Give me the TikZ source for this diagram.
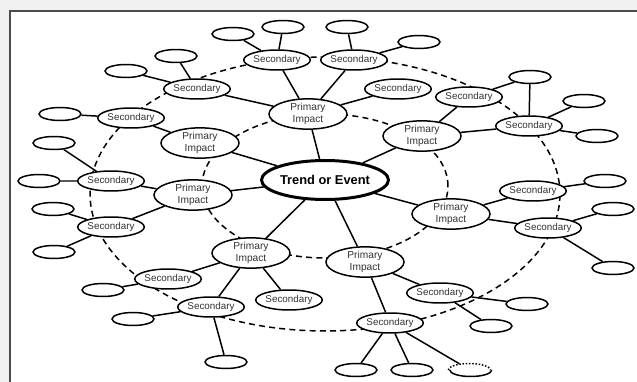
\documentclass[tikz,border=0pt]{standalone}
\usepackage{fontspec}
\setmainfont{Liberation Sans}
\usetikzlibrary{shapes.geometric}
\tikzset{
  garis/.style={line width=0.85pt},
  putus/.style={line width=0.85pt,dash pattern=on 3.4pt off 2.4pt},
  pusat/.style={ellipse,draw,fill=white,line width=1.7pt,minimum width=2.24cm,minimum height=0.78cm,inner sep=0pt,font=\fontsize{7.3}{8}\selectfont\bfseries},
  primer/.style={ellipse,draw,fill=white,line width=0.85pt,minimum width=1.56cm,minimum height=0.56cm,inner sep=0pt,align=center,text=black!80,font=\fontsize{5.8}{6.8}\selectfont},
  sekunder/.style={ellipse,draw,fill=white,line width=0.85pt,minimum width=1.14cm,minimum height=0.4cm,inner sep=0pt,text=black!80,font=\fontsize{5.6}{6.5}\selectfont},
  daun/.style={ellipse,draw,fill=white,line width=0.85pt,minimum width=0.84cm,minimum height=0.26cm,inner sep=0pt}
}

\begin{document}
\begin{tikzpicture}[x=0.02cm,y=-0.02cm]
\useasboundingbox (0,0) rectangle (637,382);

% bingkai
\fill[gray!12] (0,0) rectangle (637,10);
\fill[gray!12] (0,0) rectangle (9,382);
\draw[gray!60!black,line width=0.8pt] (637,11) -- (10,11) -- (10,382);

% elips putus-putus
\draw[putus] (325,194) ellipse [x radius=4.7cm,y radius=2.74cm];
\draw[putus] (325,186) ellipse [x radius=2.46cm,y radius=1.44cm];

% pusat dan dampak primer
\node[pusat] (t) at (325,180) {Trend or Event};
\node[primer] (p1) at (308,114) {Primary\\Impact};
\node[primer] (p2) at (200,143) {Primary\\Impact};
\node[primer] (p3) at (193,195) {Primary\\Impact};
\node[primer] (p4) at (251,253) {Primary\\Impact};
\node[primer] (p5) at (365,262) {Primary\\Impact};
\node[primer] (p6) at (451,214) {Primary\\Impact};
\node[primer] (p7) at (422,136) {Primary\\Impact};

% dampak sekunder
\node[sekunder] (s1) at (277,60) {Secondary};
\node[sekunder] (s2) at (354,60) {Secondary};
\node[sekunder] (s3) at (197,89) {Secondary};
\node[sekunder] (s4) at (131,118) {Secondary};
\node[sekunder] (s5) at (111,181) {Secondary};
\node[sekunder] (s6) at (111,227) {Secondary};
\node[sekunder] (s7) at (168,279) {Secondary};
\node[sekunder] (s8) at (211,307) {Secondary};
\node[sekunder] (s9) at (289,300) {Secondary};
\node[sekunder] (s10) at (390,323) {Secondary};
\node[sekunder] (s11) at (440,293) {Secondary};
\node[sekunder] (s12) at (548,228) {Secondary};
\node[sekunder] (s13) at (533,191) {Secondary};
\node[sekunder] (s14) at (529,126) {Secondary};
\node[sekunder] (s15) at (469,97) {Secondary};
\node[sekunder] (s16) at (398,89) {Secondary};

% elips kosong
\node[daun] (la1) at (233,34) {};
\node[daun] (la2) at (283,27) {};
\node[daun] (lb1) at (347,27) {};
\node[daun] (lb2) at (419,42) {};
\node[daun] (lc1) at (176,56) {};
\node[daun] (lc2) at (126,71) {};
\node[daun] (ld1) at (60,114) {};
\node[daun] (le1) at (54,143) {};
\node[daun] (le2) at (39,181) {};
\node[daun] (lf1) at (53,209) {};
\node[daun] (lf2) at (54,252) {};
\node[daun] (lg1) at (103,290) {};
\node[daun] (lh1) at (133,319) {};
\node[daun] (lh2) at (226,362) {};
\node[daun] (lj1) at (356,370) {};
\node[daun] (lj2) at (412,370) {};
\node[daun,draw=none] (lj3) at (470,370) {};
\node[daun] (lk1) at (527,304) {};
\node[daun] (lk2) at (491,326) {};
\node[daun] (lm1) at (613,209) {};
\node[daun] (lm2) at (613,268) {};
\node[daun] (ln1) at (605,181) {};
\node[daun] (lo1) at (584,101) {};
\node[daun] (lo2) at (597,136) {};
\node[daun] (lo3) at (530,77) {};

% elips bertitik
\draw[line width=0.85pt,densely dotted] (lj3.west) arc[start angle=180,end angle=0,x radius=0.42cm,y radius=0.13cm];
\draw[garis] (lj3.east) arc[start angle=0,end angle=-180,x radius=0.42cm,y radius=0.13cm];

% garis pusat ke primer
\draw[garis] (t) -- (p1) (t) -- (p2) (t) -- (p3) (t) -- (p4)
  (t) -- (p5) (t) -- (p6) (t) -- (p7);

% garis primer ke sekunder
\draw[garis] (p1) -- (s1) (p1) -- (s2) (p1) -- (s3) (p1) -- (s16)
  (p2) -- (s4) (p3) -- (s5) (p3) -- (s6)
  (p4) -- (s7) (p4) -- (s8) (p4) -- (s9)
  (p5) -- (s10) (p5) -- (s11)
  (p6) -- (s12) (p6) -- (s13)
  (p7) -- (s14) (p7) -- (s15);

% garis sekunder ke elips kosong
\draw[garis] (s1) -- (la1) (s1) -- (la2) (s2) -- (lb1) (s2) -- (lb2)
  (s3) -- (lc1) (s3) -- (lc2) (s4) -- (ld1)
  (s5) -- (le1) (s5) -- (le2) (s6) -- (lf1) (s6) -- (lf2)
  (s7) -- (lg1) (s8) -- (lh1) (s8) -- (lh2)
  (s10) -- (lj1) (s10) -- (lj2) (s10) -- (lj3)
  (s11) -- (lk1) (s11) -- (lk2) (s12) -- (lm1) (s12) -- (lm2)
  (s13) -- (ln1) (s14) -- (lo1) (s14) -- (lo2) (s14) -- (lo3)
  (s15) -- (lo3);

\end{tikzpicture}
\end{document}
